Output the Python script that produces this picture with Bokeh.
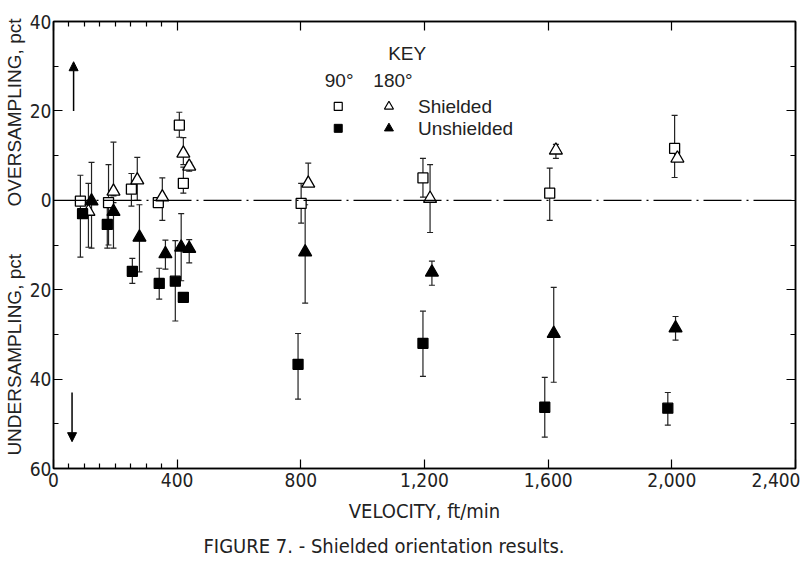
import math
from bokeh.plotting import figure
from bokeh.models import (Range1d, FixedTicker, LinearAxis, Whisker, TeeHead, ColumnDataSource,
                          Span, Label, Arrow, NormalHead, Title)
from bokeh.embed import file_html
from bokeh.resources import INLINE

# ---------------- data ----------------
# 90 deg, shielded (open squares)
sq_sh_x = [87, 178, 252, 339, 407, 420, 801, 1195, 1605, 2009]
sq_sh_y = [-0.2, -0.5, 2.5, -0.5, 16.8, 3.8, -0.7, 5.0, 1.6, 11.6]
sq_sh_hi = [5.6, 8.0, 6.0, -0.5, 19.7, 7.4, 3.8, 9.4, 7.2, 19.0]
sq_sh_lo = [-12.7, -10.0, -1.3, -0.5, 14.1, 1.6, -5.1, 0.7, -4.5, 5.1]

# 180 deg, shielded (open triangles)
tr_sh_x = [113, 194, 271, 352, 420, 439, 824, 1218, 1625, 2018]
tr_sh_y = [-2.5, 2.0, 4.5, 0.7, 10.5, 7.6, 3.8, 0.4, 11.2, 9.4]
tr_sh_hi = [3.8, 13.0, 9.6, 5.0, 14.0, 8.5, 8.3, 8.0, 12.5, 9.4]
tr_sh_lo = [-10.5, 1.0, 0.0, -4.5, 8.0, 6.5, 3.8, -7.2, 9.4, 9.4]

# 90 deg, unshielded (filled squares)
sq_un_x = [94, 174, 255, 342, 394, 420, 791, 1195, 1589, 1987]
sq_un_y = [-3.0, -5.4, -15.9, -18.6, -18.1, -21.7, -36.7, -32.0, -46.3, -46.5]
sq_un_hi = [-3.0, 0.0, -13.0, -15.2, -9.0, -21.7, -29.8, -24.8, -39.6, -43.0]
sq_un_lo = [-3.0, -10.7, -18.6, -22.1, -27.0, -21.7, -44.5, -39.4, -53.0, -50.3]

# 180 deg, unshielded (filled triangles)
tr_un_x = [123, 194, 278, 362, 413, 439, 814, 1224, 1618, 2012]
tr_un_y = [-0.2, -2.5, -8.3, -12.0, -10.5, -10.8, -11.6, -16.1, -29.8, -28.6]
tr_un_hi = [8.5, -0.5, -1.0, -8.9, -3.0, -8.8, -1.0, -13.6, -19.5, -26.0]
tr_un_lo = [-10.7, -10.7, -16.0, -15.4, -18.0, -14.0, -23.0, -19.0, -40.7, -31.3]

x_ticks = [0, 400, 800, 1200, 1600, 2000, 2400]
x_tick_labels = ["0", "400", "800", "1,200", "1,600", "2,000", "2,400"]
x_minor = [50, 100, 150, 200, 250, 300, 350]
y_ticks = [-60, -40, -20, 0, 20, 40]
y_tick_labels = ["60", "40", "20", "0", "20", "40"]
y_minor = [-50, -30, -10, 10, 30]

NARROW = "DejaVu Sans Condensed"
SANS = "Liberation Sans"
INK = "#222222"

p = figure(width=800, height=573, output_backend="svg", toolbar_location=None,
           x_range=Range1d(0, 2400), y_range=Range1d(-60, 40),
           min_border_left=52, min_border_right=5, min_border_top=21, min_border_bottom=105)
p.background_fill_color = "white"
p.border_fill_color = "white"
p.grid.visible = False
p.outline_line_color = "black"
p.outline_line_width = 1.5

bottom_ax = p.below[0]
left_ax = p.left[0]


def style_axis(ax, ticks, minor, labels, show_labels):
    ax.ticker = FixedTicker(ticks=ticks, minor_ticks=minor)
    ax.major_tick_in = 9
    ax.major_tick_out = 0
    ax.minor_tick_in = 5
    ax.minor_tick_out = 0
    ax.axis_line_color = "black"
    ax.axis_line_width = 1.5
    ax.major_tick_line_color = "black"
    ax.minor_tick_line_color = "black"
    ax.major_tick_line_width = 1.2
    ax.minor_tick_line_width = 1.2
    if show_labels:
        ax.major_label_overrides = {t: l for t, l in zip(ticks, labels)}
        ax.major_label_text_font = NARROW
        ax.major_label_text_font_size = "19px"
        ax.major_label_text_color = INK
        ax.major_label_standoff = 2
    else:
        ax.major_label_overrides = {t: "" for t in ticks}
        ax.major_label_text_font_size = "6px"
        ax.major_label_standoff = 0


style_axis(bottom_ax, x_ticks, x_minor, x_tick_labels, True)
style_axis(left_ax, y_ticks, y_minor, y_tick_labels, True)
bottom_ax.major_label_standoff = 4
top = LinearAxis()
right = LinearAxis()
style_axis(top, x_ticks, x_minor, x_tick_labels, False)
style_axis(right, y_ticks, y_minor, y_tick_labels, False)
p.add_layout(top, "above")
p.add_layout(right, "right")

NB = "\u00a0"
left_ax.axis_label = NB * 3 + "UNDERSAMPLING, pct" + NB * 9 + "OVERSAMPLING, pct"
left_ax.axis_label_text_font = SANS
left_ax.axis_label_text_font_style = "normal"
left_ax.axis_label_text_font_size = "19px"
left_ax.axis_label_text_color = INK
left_ax.axis_label_standoff = 2

bottom_ax.axis_label = "VELOCITY, ft/min"
bottom_ax.axis_label_text_font = NARROW
bottom_ax.axis_label_text_font_style = "normal"
bottom_ax.axis_label_text_font_size = "20px"
bottom_ax.axis_label_text_color = INK
bottom_ax.axis_label_standoff = 9

caption = Title(text="FIGURE 7. - Shielded orientation results.", align="left",
                text_font=NARROW, text_font_size="20px", text_font_style="normal",
                text_color=INK, offset=150, standoff=13)
p.add_layout(caption, "below")

# zero line
p.add_layout(Span(location=0, dimension="width", line_color="black", line_width=1.2,
                  line_dash="38 5 2 5"))

# arrows
p.add_layout(Arrow(x_start=65, y_start=20, x_end=65, y_end=31, line_width=1.5,
                   end=NormalHead(size=9, fill_color="black", line_color="black")))
p.add_layout(Arrow(x_start=60, y_start=-43, x_end=60, y_end=-54, line_width=1.5,
                   end=NormalHead(size=9, fill_color="black", line_color="black")))


def series(xs, ys, hi, lo, marker, fill, size):
    src = ColumnDataSource(dict(x=xs, y=ys, hi=hi, lo=lo))
    w = Whisker(source=src, base="x", upper="hi", lower="lo", dimension="height",
                line_color=INK, line_width=1.2,
                upper_head=TeeHead(size=6, line_color=INK, line_width=1.2),
                lower_head=TeeHead(size=6, line_color=INK, line_width=1.2))
    p.add_layout(w)
    p.scatter("x", "y", source=src, marker=marker, size=size, fill_color=fill,
              line_color="black", line_width=1.3)


series(sq_sh_x, sq_sh_y, sq_sh_hi, sq_sh_lo, "square", "white", 10)
series(tr_sh_x, tr_sh_y, tr_sh_hi, tr_sh_lo, "triangle", "white", 13)
series(sq_un_x, sq_un_y, sq_un_hi, sq_un_lo, "square", "black", 10)
series(tr_un_x, tr_un_y, tr_un_hi, tr_un_lo, "triangle", "black", 13)

# key
p.add_layout(Label(x=1144, y=32.9, text="KEY", text_font=SANS, text_font_size="19px",
                   text_align="center", text_baseline="middle", text_color=INK))
p.add_layout(Label(x=924, y=26.8, text="90°", text_font=SANS, text_font_size="19px",
                   text_align="center", text_baseline="middle", text_color=INK))
p.add_layout(Label(x=1098, y=26.8, text="180°", text_font=SANS, text_font_size="19px",
                   text_align="center", text_baseline="middle", text_color=INK))
p.scatter([921], [21.0], marker="square", size=8, fill_color="white", line_color="black", line_width=1.2)
p.scatter([1085], [21.0], marker="triangle", size=9, fill_color="white", line_color="black", line_width=1.2)
p.scatter([921], [16.1], marker="square", size=8, fill_color="black", line_color="black")
p.scatter([1085], [16.1], marker="triangle", size=9, fill_color="black", line_color="black")
p.add_layout(Label(x=1179, y=21.0, text="Shielded", text_font=SANS, text_font_size="19px",
                   text_baseline="middle", text_color=INK))
p.add_layout(Label(x=1179, y=16.1, text="Unshielded", text_font=SANS, text_font_size="19px",
                   text_baseline="middle", text_color=INK))

open("out.html", "w").write(file_html(p, INLINE))
